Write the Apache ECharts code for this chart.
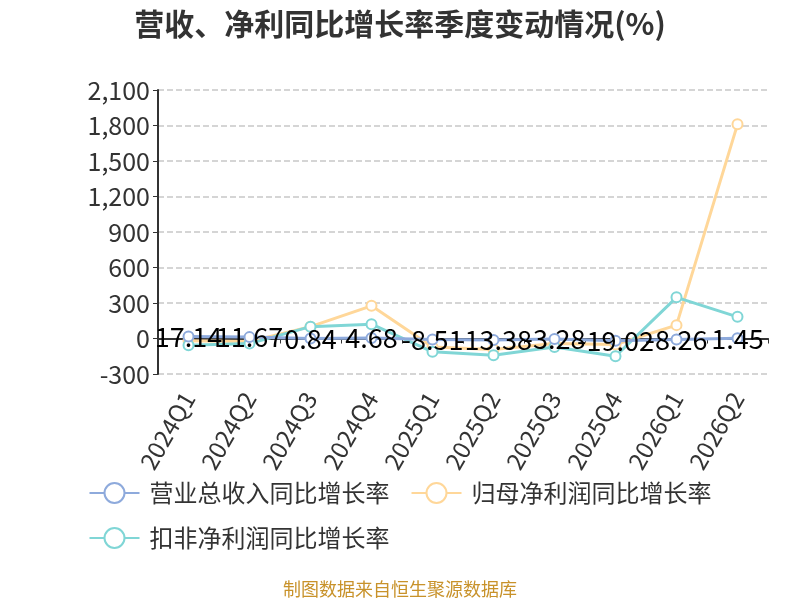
<!DOCTYPE html>
<html>
<head>
<meta charset="utf-8">
<script src="https://cdn.jsdelivr.net/npm/echarts@6/dist/echarts.min.js"></script>
<style>
html,body{margin:0;padding:0;background:#fff;}
#chart{width:800px;height:600px;}
</style>
</head>
<body>
<div id="chart"></div>
<script>
var quarters = ['2024Q1','2024Q2','2024Q3','2024Q4','2025Q1','2025Q2','2025Q3','2025Q4','2026Q1','2026Q2'];
var revenueGrowth = [17.14, 11.67, 0.84, 4.68, -8.51, -13.38, -3.28, -19.02, -8.26, 1.45];
var parentProfitGrowth = [-20, -25, 100, 276, -71, -93, -43, -51, 113, 1810];
var deductedProfitGrowth = [-57, -43, 100, 121, -113, -141, -71, -150, 348, 183];
var seriesNames = ['营业总收入同比增长率','归母净利润同比增长率','扣非净利润同比增长率'];
var colors = ['#8eaadc','#ffd799','#80d6d6'];

var font = '"Noto Sans CJK SC", "Noto Sans", sans-serif';
var chart = echarts.init(document.getElementById('chart'));

function makeSeries(name, data, idx, showLabel) {
	return {
		name: name,
		type: 'line',
		data: data,
		symbol: 'emptyCircle',
		symbolSize: 10,
		z: 2 + idx,
		lineStyle: { width: 3, color: colors[idx] },
		itemStyle: { color: colors[idx], borderWidth: 2 },
		label: showLabel ? {
			show: true,
			position: 'inside',
			color: '#000',
			fontSize: 27,
			fontFamily: font
		} : { show: false }
	};
}

var option = {
	backgroundColor: '#fff',
	color: colors,
	title: {
		text: '营收、净利同比增长率季度变动情况(%)',
		left: 'center',
		top: 4,
		textStyle: { fontSize: 30, fontWeight: 'bold', color: '#333', fontFamily: font }
	},
	legend: {
		data: seriesNames,
		left: 'center',
		top: 476,
		width: 660,
		itemWidth: 50,
		itemHeight: 25,
		itemGap: 21,
		textStyle: { fontSize: 24, color: '#333', fontFamily: font, padding: [0, 0, 0, 5] }
	},
	graphic: [{
		type: 'text',
		left: 'center',
		top: 580,
		style: { text: '制图数据来自恒生聚源数据库', fill: '#c8922a', fontSize: 18, fontFamily: font }
	}],
	grid: { left: 158, right: 32, top: 90, bottom: 226 },
	xAxis: {
		type: 'category',
		data: quarters,
		axisLine: { onZero: true, lineStyle: { color: '#333', width: 2 } },
		axisTick: { show: true, lineStyle: { color: '#333' } },
		axisLabel: { rotate: 60, margin: 20, fontSize: 24, color: '#333', fontFamily: font }
	},
	yAxis: {
		type: 'value',
		min: -300,
		max: 2100,
		interval: 300,
		axisLine: { show: true, lineStyle: { color: '#333', width: 2 } },
		axisTick: { show: true, lineStyle: { color: '#333' } },
		axisLabel: { fontSize: 25, color: '#333', fontFamily: font },
		splitLine: { lineStyle: { type: 'dashed', color: '#c8c8c8', width: 1.5 } }
	},
	series: [
		makeSeries(seriesNames[0], revenueGrowth, 0, true),
		makeSeries(seriesNames[1], parentProfitGrowth, 1, false),
		makeSeries(seriesNames[2], deductedProfitGrowth, 2, false)
	]
};
option.series[0].z = 6;
chart.setOption(option);
</script>
</body>
</html>
